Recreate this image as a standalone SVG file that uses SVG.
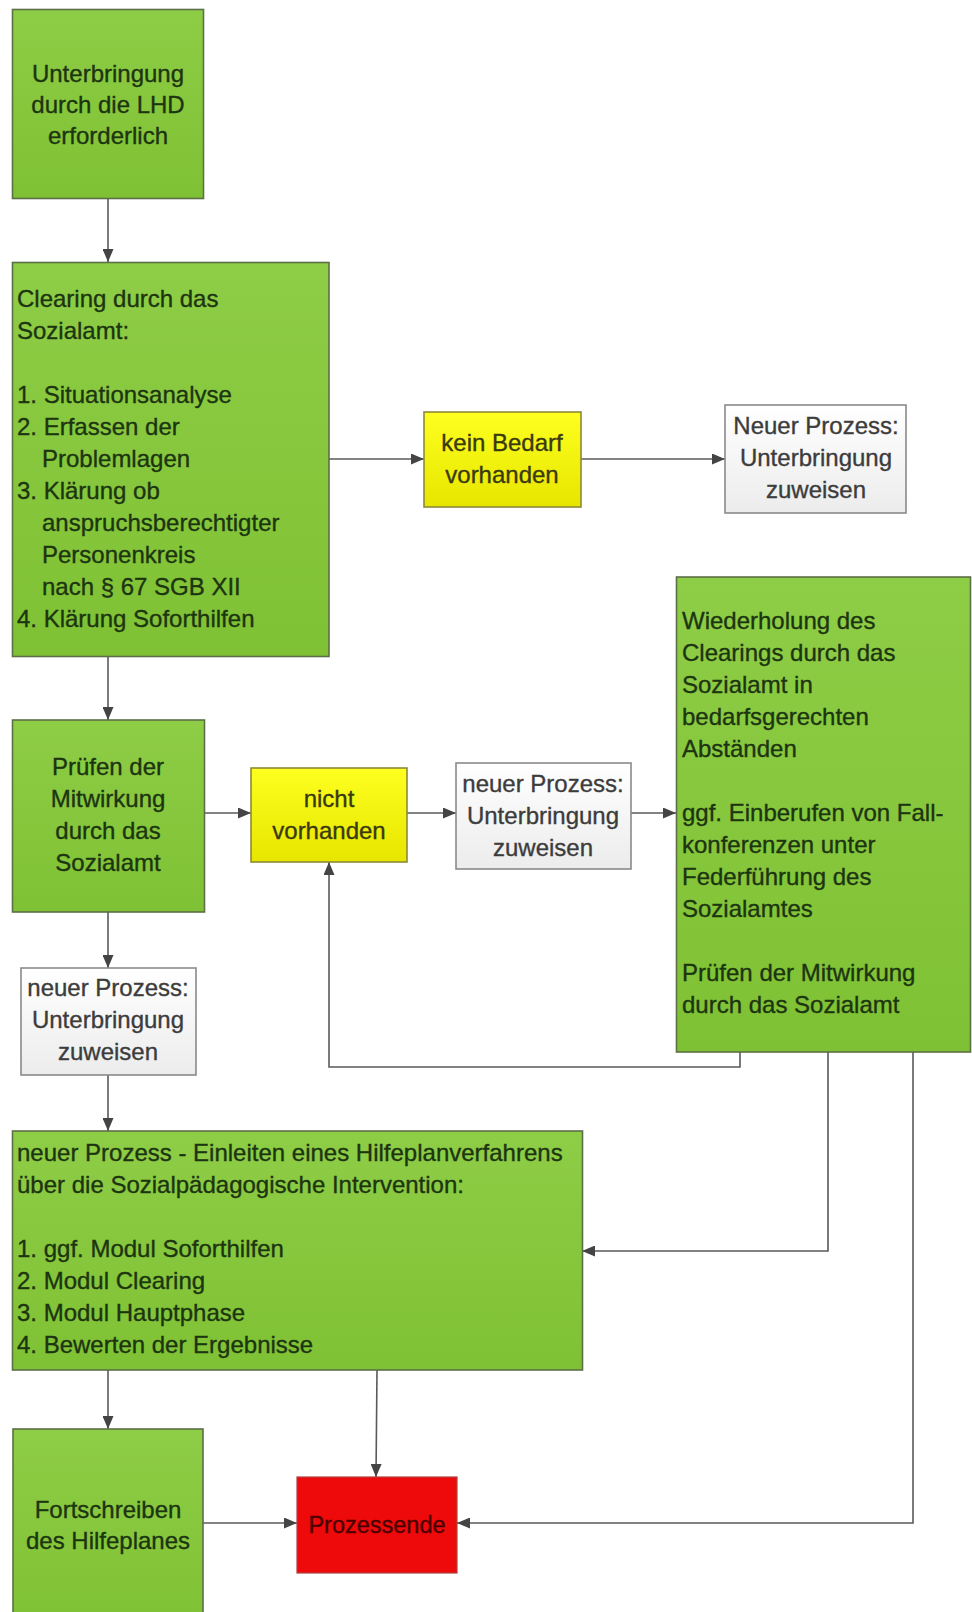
<svg xmlns="http://www.w3.org/2000/svg" width="972" height="1612" viewBox="0 0 972 1612">
<defs>
<linearGradient id="gGreen" x1="0" y1="0" x2="0" y2="1">
<stop offset="0" stop-color="#8ecd46"/>
<stop offset="1" stop-color="#7fc134"/>
</linearGradient>
<linearGradient id="gYellow" x1="0" y1="0" x2="0" y2="1">
<stop offset="0" stop-color="#ffff20"/>
<stop offset="1" stop-color="#e6e600"/>
</linearGradient>
<linearGradient id="gGray" x1="0" y1="0" x2="0" y2="1">
<stop offset="0" stop-color="#ffffff"/>
<stop offset="1" stop-color="#ececec"/>
</linearGradient>
<marker id="arr" viewBox="0 0 13 11" refX="13" refY="5.5" markerWidth="13" markerHeight="11" markerUnits="userSpaceOnUse" orient="auto">
<path d="M0,0 L13,5.5 L0,11 Z" fill="#444"/>
</marker>
<style>
.g{fill:url(#gGreen);stroke:#5d6f47;stroke-width:1.6}
.y{fill:url(#gYellow);stroke:#8c8a36;stroke-width:1.6}
.w{fill:url(#gGray);stroke:#8a8a8a;stroke-width:1.6}
.r{fill:#ee0a0a;stroke:#b04040;stroke-width:1.2}
text{font-family:"Liberation Sans",Arial,sans-serif;font-size:24px;stroke-width:0.35}
.tg{fill:#1c3510;stroke:#1c3510}
.tw{fill:#3c3c3c;stroke:#3c3c3c}
.ty{fill:#3a3a10;stroke:#3a3a10}
.tr{fill:#4a0000;stroke:#4a0000;font-size:23.5px}
.c{text-anchor:middle}
.ln{fill:none;stroke:#5a5a5a;stroke-width:1.6}
</style>
</defs>

<g id="connectors">
<path class="ln" d="M108,199 V262" marker-end="url(#arr)"/>
<path class="ln" d="M329,459 H424" marker-end="url(#arr)"/>
<path class="ln" d="M581,459 H725" marker-end="url(#arr)"/>
<path class="ln" d="M108,656 V720" marker-end="url(#arr)"/>
<path class="ln" d="M204,813 H251" marker-end="url(#arr)"/>
<path class="ln" d="M407,813 H456" marker-end="url(#arr)"/>
<path class="ln" d="M631,813 H676" marker-end="url(#arr)"/>
<path class="ln" d="M740,1052 V1067 H329 V862" marker-end="url(#arr)"/>
<path class="ln" d="M108,912 V968" marker-end="url(#arr)"/>
<path class="ln" d="M108,1075 V1131" marker-end="url(#arr)"/>
<path class="ln" d="M828,1052 V1251 H582" marker-end="url(#arr)"/>
<path class="ln" d="M108,1370 V1429" marker-end="url(#arr)"/>
<path class="ln" d="M377,1370 L376,1477" marker-end="url(#arr)"/>
<path class="ln" d="M203,1523 H297" marker-end="url(#arr)"/>
<path class="ln" d="M913,1052 V1523 H457" marker-end="url(#arr)"/>
</g>

<g id="n1">
<rect class="g" x="12.5" y="9.5" width="191" height="189"/>
<text class="tg c" x="108" y="82">Unterbringung</text>
<text class="tg c" x="108" y="113">durch die LHD</text>
<text class="tg c" x="108" y="144">erforderlich</text>
</g>

<g id="n2">
<rect class="g" x="12.5" y="262.5" width="316.5" height="394"/>
<text class="tg" x="17" y="307">Clearing durch das</text>
<text class="tg" x="17" y="339">Sozialamt:</text>
<text class="tg" x="17" y="403">1. Situationsanalyse</text>
<text class="tg" x="17" y="435">2. Erfassen der</text>
<text class="tg" x="42" y="467">Problemlagen</text>
<text class="tg" x="17" y="499">3. Klärung ob</text>
<text class="tg" x="42" y="531">anspruchsberechtigter</text>
<text class="tg" x="42" y="563">Personenkreis</text>
<text class="tg" x="42" y="595">nach § 67 SGB XII</text>
<text class="tg" x="17" y="627">4. Klärung Soforthilfen</text>
</g>

<g id="n3">
<rect class="y" x="424" y="412" width="157" height="95"/>
<text class="ty c" x="502" y="451">kein Bedarf</text>
<text class="ty c" x="502" y="483">vorhanden</text>
</g>

<g id="n4">
<rect class="w" x="725" y="405" width="181" height="108"/>
<text class="tw c" x="816" y="434">Neuer Prozess:</text>
<text class="tw c" x="816" y="466">Unterbringung</text>
<text class="tw c" x="816" y="498">zuweisen</text>
</g>

<g id="n5">
<rect class="g" x="12.5" y="720" width="192" height="192"/>
<text class="tg c" x="108" y="775">Prüfen der</text>
<text class="tg c" x="108" y="807">Mitwirkung</text>
<text class="tg c" x="108" y="839">durch das</text>
<text class="tg c" x="108" y="871">Sozialamt</text>
</g>

<g id="n6">
<rect class="y" x="251" y="768" width="156" height="94"/>
<text class="ty c" x="329" y="807">nicht</text>
<text class="ty c" x="329" y="839">vorhanden</text>
</g>

<g id="n7">
<rect class="w" x="456" y="763" width="175" height="106"/>
<text class="tw c" x="543" y="792">neuer Prozess:</text>
<text class="tw c" x="543" y="824">Unterbringung</text>
<text class="tw c" x="543" y="856">zuweisen</text>
</g>

<g id="n8">
<rect class="g" x="676.5" y="577" width="294" height="475"/>
<text class="tg" x="682" y="629">Wiederholung des</text>
<text class="tg" x="682" y="661">Clearings durch das</text>
<text class="tg" x="682" y="693">Sozialamt in</text>
<text class="tg" x="682" y="725">bedarfsgerechten</text>
<text class="tg" x="682" y="757">Abständen</text>
<text class="tg" x="682" y="821">ggf. Einberufen von Fall-</text>
<text class="tg" x="682" y="853">konferenzen unter</text>
<text class="tg" x="682" y="885">Federführung des</text>
<text class="tg" x="682" y="917">Sozialamtes</text>
<text class="tg" x="682" y="981">Prüfen der Mitwirkung</text>
<text class="tg" x="682" y="1013">durch das Sozialamt</text>
</g>

<g id="n9">
<rect class="w" x="21" y="968" width="175" height="107"/>
<text class="tw c" x="108" y="996">neuer Prozess:</text>
<text class="tw c" x="108" y="1028">Unterbringung</text>
<text class="tw c" x="108" y="1060">zuweisen</text>
</g>

<g id="n10">
<rect class="g" x="12.5" y="1131" width="570" height="239"/>
<text class="tg" x="17" y="1161">neuer Prozess - Einleiten eines Hilfeplanverfahrens</text>
<text class="tg" x="17" y="1193">über die Sozialpädagogische Intervention:</text>
<text class="tg" x="17" y="1257">1. ggf. Modul Soforthilfen</text>
<text class="tg" x="17" y="1289">2. Modul Clearing</text>
<text class="tg" x="17" y="1321">3. Modul Hauptphase</text>
<text class="tg" x="17" y="1353">4. Bewerten der Ergebnisse</text>
</g>

<g id="n11">
<rect class="g" x="13" y="1429" width="190" height="200"/>
<text class="tg c" x="108" y="1518">Fortschreiben</text>
<text class="tg c" x="108" y="1549">des Hilfeplanes</text>
</g>

<g id="n12">
<rect class="r" x="297" y="1477" width="160" height="96"/>
<text class="tr c" x="377" y="1533">Prozessende</text>
</g>
</svg>
